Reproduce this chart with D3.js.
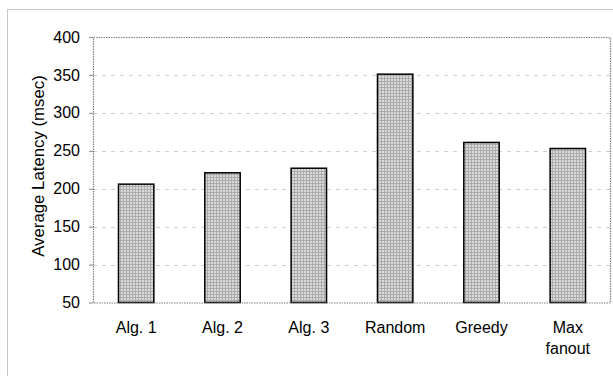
<!DOCTYPE html>
<html><head><meta charset="utf-8">
<script src="https://cdn.jsdelivr.net/npm/d3@7"></script>
<style>body{margin:0;background:#fff}svg{display:block}text{font-family:"Liberation Sans",Arial,sans-serif}</style>
</head><body><svg id="c" width="613" height="376"></svg>
<script>
const categories = [["Alg. 1"], ["Alg. 2"], ["Alg. 3"], ["Random"], ["Greedy"], ["Max", "fanout"]];
const values = [206, 221, 227, 351, 261, 253];
const yTicks = [50, 100, 150, 200, 250, 300, 350, 400];
const yTitle = "Average Latency (msec)";

const svg = d3.select("#c");
const m = {l: 93, t: 37, r: 611, b: 302.5};
const x = d3.scaleBand().domain(d3.range(categories.length)).range([m.l, m.r]).paddingInner(0.59).paddingOuter(0.295);
const y = d3.scaleLinear().domain([50, 400]).range([m.b, m.t]);

const defs = svg.append("defs");
const pat = defs.append("pattern").attr("id", "p").attr("width", 3).attr("height", 3).attr("patternUnits", "userSpaceOnUse");
pat.append("rect").attr("width", 3).attr("height", 3).attr("fill", "#dadada");
pat.append("rect").attr("width", 3).attr("height", 1).attr("fill", "#ababab");
pat.append("rect").attr("width", 1).attr("height", 3).attr("fill", "#ababab");

// outer frame
svg.append("rect").attr("x", 7.5).attr("y", 9.5).attr("width", 800).attr("height", 600)
  .attr("fill", "none").attr("stroke", "#c8c8c8").attr("stroke-width", 1);

// gridlines
svg.append("g").selectAll("line").data(yTicks.filter(d => d > 50 && d < 400)).join("line")
  .attr("x1", m.l).attr("x2", m.r).attr("y1", d => Math.round(y(d)) + 0.5).attr("y2", d => Math.round(y(d)) + 0.5)
  .attr("stroke", "#d0d0d0").attr("stroke-dasharray", "4,5");

// y axis
const ya = svg.append("g").attr("transform", `translate(${m.l},0)`)
  .call(d3.axisLeft(y).tickValues(yTicks).tickSize(4).tickPadding(9));
ya.select(".domain").remove();
ya.selectAll(".tick line").attr("stroke", "#888");
ya.selectAll(".tick text").attr("font-size", 16).attr("fill", "#000")
  .attr("font-family", '"Liberation Sans",Arial,sans-serif');

// bars
svg.append("g").selectAll("rect").data(values).join("rect")
  .attr("x", (d, i) => x(i)).attr("width", x.bandwidth())
  .attr("y", d => y(d)).attr("height", d => y(50) - y(d))
  .attr("fill", "url(#p)").attr("stroke", "#000").attr("stroke-width", 1.5);

// plot border
svg.append("rect").attr("x", m.l + 0.5).attr("y", m.t + 0.5).attr("width", m.r - m.l - 1).attr("height", m.b - m.t)
  .attr("fill", "none").attr("stroke", "#808080").attr("stroke-width", 1.2).attr("stroke-dasharray", "1.5,1");

// x labels
const xl = svg.append("g").selectAll("text").data(categories).join("text")
  .attr("text-anchor", "middle").attr("font-size", 16).attr("fill", "#000")
  .attr("x", (d, i) => x(i) + x.bandwidth() / 2).attr("y", 333);
xl.selectAll("tspan").data(d => d).join("tspan")
  .attr("x", function() { return d3.select(this.parentNode).attr("x"); })
  .attr("dy", (d, i) => i === 0 ? 0 : 21).text(d => d);

// y title
svg.append("text").attr("transform", `translate(44,166) rotate(-90)`)
  .attr("text-anchor", "middle").attr("font-size", 16.8).attr("fill", "#000").text(yTitle);
</script></body></html>
